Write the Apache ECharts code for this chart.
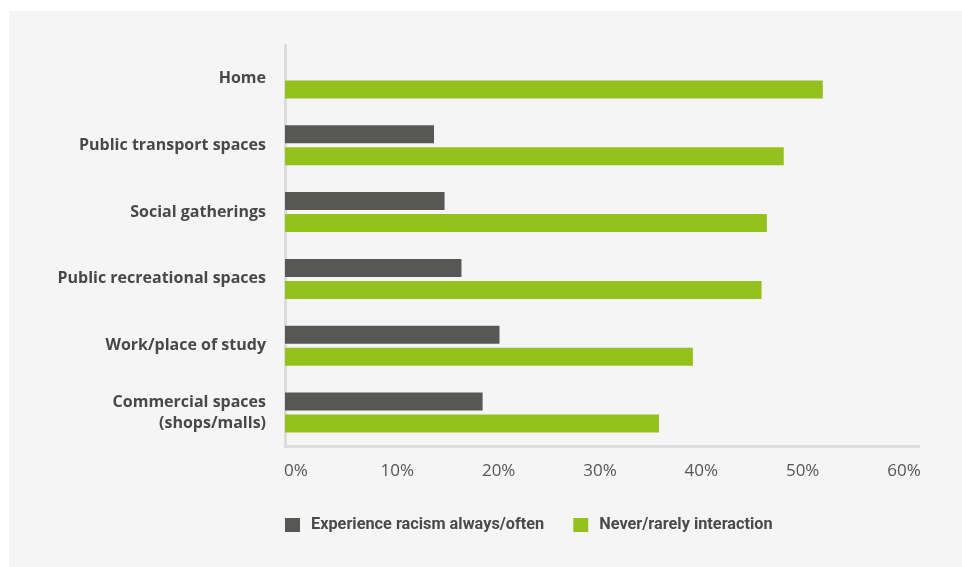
<!DOCTYPE html>
<html>
<head>
<meta charset="utf-8">
<script src="https://cdn.jsdelivr.net/npm/echarts@6/dist/echarts.min.js"></script>
<style>
  html, body { margin: 0; padding: 0; background: #ffffff; }
  #panel { position: absolute; left: 9px; top: 11px; width: 953px; height: 556px; background: #f5f5f5; }
  #chart { position: absolute; left: 0; top: 0; width: 962px; height: 567px; }
</style>
</head>
<body>
<div id="panel"></div>
<div id="chart"></div>
<script>
// Places where respondents were asked about racism and interaction
const categories = [
  'Home',
  'Public transport spaces',
  'Social gatherings',
  'Public recreational spaces',
  'Work/place of study',
  'Commercial spaces\n(shops/malls)'
];
// Share (%) experiencing racism always/often (no value for Home)
const racismAlwaysOften = [null, 14.1, 15.1, 16.7, 20.3, 18.7];
// Share (%) reporting never/rarely any interaction
const neverRarelyInteraction = [50.9, 47.2, 45.6, 45.1, 38.6, 35.4];
// Percent tick labels along the bottom
const xTickValues = [0, 10, 20, 30, 40, 50, 60];

const seriesNames = ['Experience racism always/often', 'Never/rarely interaction'];
const colors = ['#575756', '#95c11f'];

const chart = echarts.init(document.getElementById('chart'), null, { renderer: 'canvas' });

chart.setOption({
  backgroundColor: 'transparent',
  animation: false,
  color: colors,
  grid: { left: 285, right: 43, top: 45, bottom: 121, containLabel: false },
  legend: {
    left: 285,
    top: 517,
    padding: 0,
    itemWidth: 15,
    itemHeight: 14,
    itemGap: 29,
    icon: 'rect',
    textStyle: {
      fontFamily: "Roboto, sans-serif",
      fontWeight: 'bold',
      fontSize: 16.3,
      color: '#4a4a4a',
      padding: [0, 0, 0, 6]
    },
    data: seriesNames
  },
  xAxis: [
    {
      type: 'value',
      position: 'bottom',
      min: 0,
      max: 60,
      axisLine: { show: true, lineStyle: { color: '#dcdcdc', width: 3 } },
      axisTick: { show: false },
      axisLabel: { show: false },
      splitLine: { show: false }
    },
    {
      // label track for the percent ticks
      type: 'value',
      position: 'bottom',
      min: -1.0855,
      max: 61.48,
      axisLine: { show: false },
      axisTick: { show: false },
      splitLine: { show: false },
      axisLabel: {
        show: true,
        customValues: xTickValues,
        formatter: v => v + '%',
        margin: 17,
        fontFamily: "'Open Sans', sans-serif",
        fontSize: 17,
        color: '#555555'
      }
    }
  ],
  yAxis: {
    type: 'category',
    inverse: true,
    data: categories,
    axisLine: { show: true, lineStyle: { color: '#dcdcdc', width: 3 } },
    axisTick: { show: false },
    axisLabel: {
      margin: 19,
      fontFamily: "'Open Sans', sans-serif",
      fontWeight: 'bold',
      fontSize: 16,
      lineHeight: 21,
      color: '#484848',
      align: 'right'
    }
  },
  series: [
    {
      name: seriesNames[0],
      type: 'bar',
      xAxisIndex: 0,
      data: racismAlwaysOften,
      barWidth: 18,
      barGap: '22%',
      itemStyle: { color: colors[0] }
    },
    {
      name: seriesNames[1],
      type: 'bar',
      xAxisIndex: 0,
      data: neverRarelyInteraction,
      barWidth: 18,
      barGap: '22%',
      itemStyle: { color: colors[1] }
    }
  ]
});
</script>
</body>
</html>
